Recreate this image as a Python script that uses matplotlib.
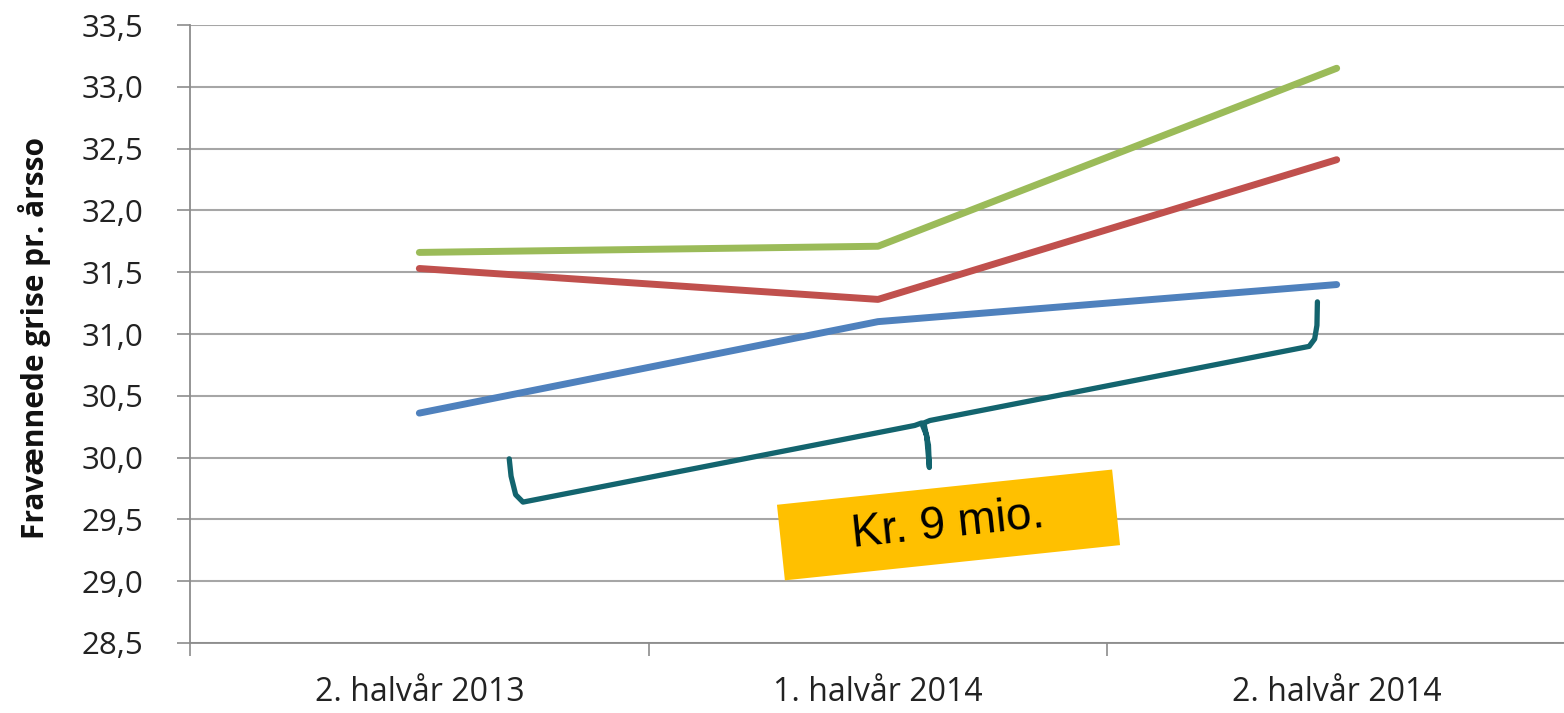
import matplotlib.pyplot as plt
import matplotlib.transforms as mtransforms
from matplotlib.patches import Rectangle
import numpy as np

plt.rcParams['font.family'] = ['Open Sans', 'DejaVu Sans']

categories = ['2. halvår 2013', '1. halvår 2014', '2. halvår 2014']
blue = [30.36, 31.10, 31.40]
red = [31.53, 31.28, 32.41]
green = [31.66, 31.71, 33.15]
ylabel = 'Fravænnede grise pr. årsso'
label_text = 'Kr. 9 mio.'

# brace outline, (category index, value)
brace_x = [0.196, 0.200, 0.210, 0.226, 1.080, 1.095, 1.106, 1.112, 1.110, 1.100, 1.113, 1.940, 1.952, 1.957, 1.958]
brace_y = [29.99, 29.85, 29.70, 29.64, 30.26, 30.28, 30.18, 29.92, 30.10, 30.28, 30.30, 30.90, 30.96, 31.07, 31.26]

fig = plt.figure(figsize=(15.64, 7.13), dpi=100)
ax = fig.add_axes([190 / 1564, 1 - 643 / 713, 1376 / 1564, 618 / 713])

x = np.arange(len(categories))
for vals, col in [(blue, '#4F81BD'), (red, '#C0504D'), (green, '#9BBB59')]:
    ax.plot(x, vals, color=col, lw=5, solid_capstyle='round', solid_joinstyle='round', zorder=3)

ax.plot(brace_x, brace_y, color='#13646E', lw=3.8, solid_capstyle='round', solid_joinstyle='round', zorder=4)

ax.set_xlim(-0.5, 2.5)
ax.set_ylim(28.5, 33.5)
yt = np.arange(28.5, 33.51, 0.5)
ax.set_yticks(yt)
ax.set_yticklabels([('%.1f' % v).replace('.', ',') for v in yt])
ax.set_xticks([-0.5, 0.5, 1.5, 2.5])
ax.set_xticklabels([])
ax.set_xticks(x, minor=True)
ax.set_xticklabels(categories, minor=True)

ax.grid(axis='y', color='#A6A6A6', lw=1.5)
ax.set_axisbelow(True)
for s in ['top', 'right']:
    ax.spines[s].set_visible(False)
for s in ['left', 'bottom']:
    ax.spines[s].set_color('#8C8C8C')
    ax.spines[s].set_linewidth(1.3)
ax.tick_params(axis='y', which='major', length=9.4, width=1.2, color='#8C8C8C', pad=24, labelsize=22.5, labelcolor='#222222')
ax.tick_params(axis='x', which='major', length=9.4, width=1.2, color='#8C8C8C')
ax.tick_params(axis='x', which='minor', length=0, pad=24, labelsize=23, labelcolor='#222222')

fig.text(35 / 1564, 1 - 338 / 713, ylabel, rotation=90, ha='center', va='center',
         fontsize=21.5, fontweight='bold', color='#111111')

# rotated label box in pixel space
cx, cy = 948, 713 - 525
rot = mtransforms.Affine2D().rotate_deg_around(cx, cy, 6)
box = Rectangle((cx - 168, cy - 38), 337, 76, facecolor='#FFC000', edgecolor='none', zorder=5)
box.set_transform(rot)
fig.add_artist(box)
fig.text(cx / 1564, cy / 713, label_text, rotation=6, ha='center', va='center',
         fontsize=33, family='Liberation Sans', color='black', zorder=6,
         rotation_mode='anchor')

fig.savefig('out.png', dpi=100)
